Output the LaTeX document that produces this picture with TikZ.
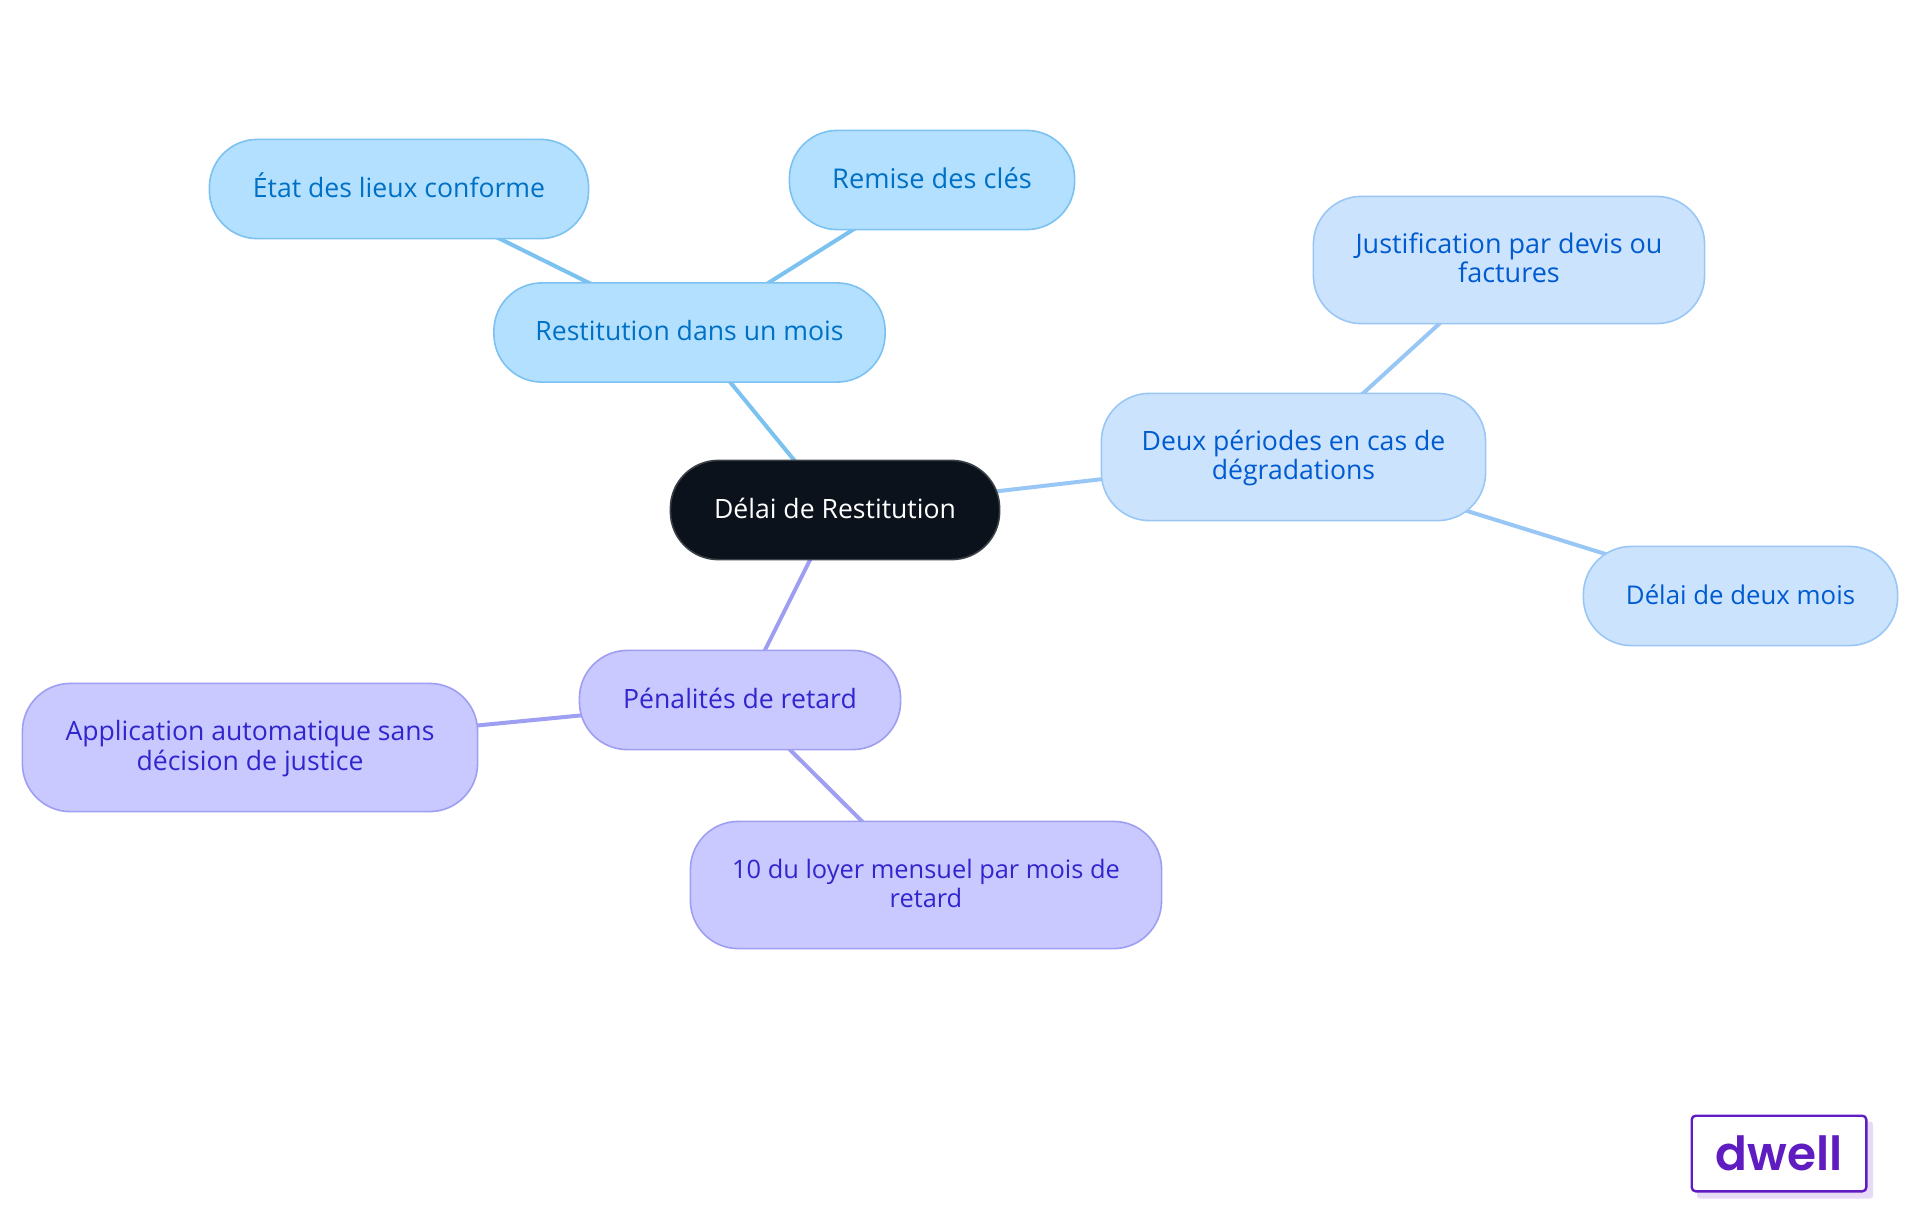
\documentclass[tikz,border=0pt]{standalone}
\usepackage{fontspec}
\setmainfont{Open Sans}
\newfontfamily\logofont{Poppins SemiBold}
\usetikzlibrary{backgrounds}

\definecolor{rootfill}{HTML}{0B121B}
\definecolor{rootline}{HTML}{3C4147}
\definecolor{restfill}{HTML}{B3E0FF}
\definecolor{restline}{HTML}{7CC2F0}
\definecolor{resttext}{HTML}{0070C4}
\definecolor{degfill}{HTML}{CCE3FD}
\definecolor{degline}{HTML}{99C7F5}
\definecolor{degtext}{HTML}{005BD0}
\definecolor{retfill}{HTML}{C9C9FF}
\definecolor{retline}{HTML}{9E9EF3}
\definecolor{rettext}{HTML}{3125CE}
\definecolor{logotext}{HTML}{5F1CC0}
\definecolor{logoshadow}{HTML}{E6DAF7}

\tikzset{
  mapnode/.style 2 args={draw,line width=1.6pt,rounded corners=48pt,align=center,inner sep=0pt,
    minimum width=#1-0.8pt,minimum height=#2-0.8pt,font=\fontsize{26.6}{29.4}\selectfont},
  fsize/.style={font=\fontsize{#1}{29.4}\selectfont},
  oneline/.style={text height=22pt,text depth=6pt},
  twoline/.style={text height=50pt,text depth=4.6pt},
  rootnode/.style={fill=rootfill,draw=rootline,text=white},
  restnode/.style={fill=restfill,draw=restline,text=resttext},
  degnode/.style={fill=degfill,draw=degline,text=degtext},
  retnode/.style={fill=retfill,draw=retline,text=rettext},
  link/.style={line width=4pt}
}

\begin{document}
\begin{tikzpicture}[x=1pt,y=-1pt]
  \useasboundingbox (0,0) rectangle (1920,1215);

  \node[mapnode={330pt}{100pt},rootnode,oneline] (root) at (835,510) {Délai de Restitution};

  \node[mapnode={392pt}{100pt},restnode,oneline] (rest) at (689.5,332.5) {Restitution dans un mois};
  \node[mapnode={380pt}{100pt},restnode,oneline] (etat) at (399,189) {État des lieux conforme};
  \node[mapnode={286pt}{100pt},restnode,oneline,fsize=27.2] (remise) at (932,180) {Remise des clés};

  \node[mapnode={385pt}{128pt},degnode,twoline] (deux) at (1293.5,457) {Deux périodes en cas de\\dégradations};
  \node[mapnode={392pt}{128pt},degnode,twoline,fsize=27] (justif) at (1509,260) {Justification par devis ou\\factures};
  \node[mapnode={315pt}{100pt},degnode,oneline,fsize=25.8] (delai) at (1740.5,596) {Délai de deux mois};

  \node[mapnode={322pt}{100pt},retnode,oneline] (penal) at (740,700) {Pénalités de retard};
  \node[mapnode={456pt}{129pt},retnode,twoline] (appli) at (250,747.5) {Application automatique sans\\décision de justice};
  \node[mapnode={472pt}{128pt},retnode,twoline,fsize=25.4] (loyer) at (926,885) {10 du loyer mensuel par mois de\\retard};

  \begin{pgfonlayer}{background}
    \draw[link,restline] (root.center) -- (rest.center);
    \draw[link,restline] (rest.center) -- (etat.center);
    \draw[link,restline] (rest.center) -- (remise.center);
    \draw[link,degline] (root.center) -- (deux.center);
    \draw[link,degline] (deux.center) -- (justif.center);
    \draw[link,degline] (deux.center) -- (delai.center);
    \draw[link,retline] (root.center) -- (penal.center);
    \draw[link,retline] (penal.center) -- (appli.center);
    \draw[link,retline] (penal.center) -- (loyer.center);
  \end{pgfonlayer}

  % logo
  \node[fill=logoshadow,rounded corners=3pt,minimum width=176pt,minimum height=77pt,inner sep=0pt] (dwellshadow) at (1785,1160) {};
  \node[draw=logotext,fill=white,line width=2.4pt,rounded corners=4pt,minimum width=174.6pt,minimum height=75.6pt,inner sep=0pt,
    text=logotext,font=\logofont\fontsize{47}{47}\selectfont] (dwell) at (1779,1153.5) {dwell};
\end{tikzpicture}
\end{document}
